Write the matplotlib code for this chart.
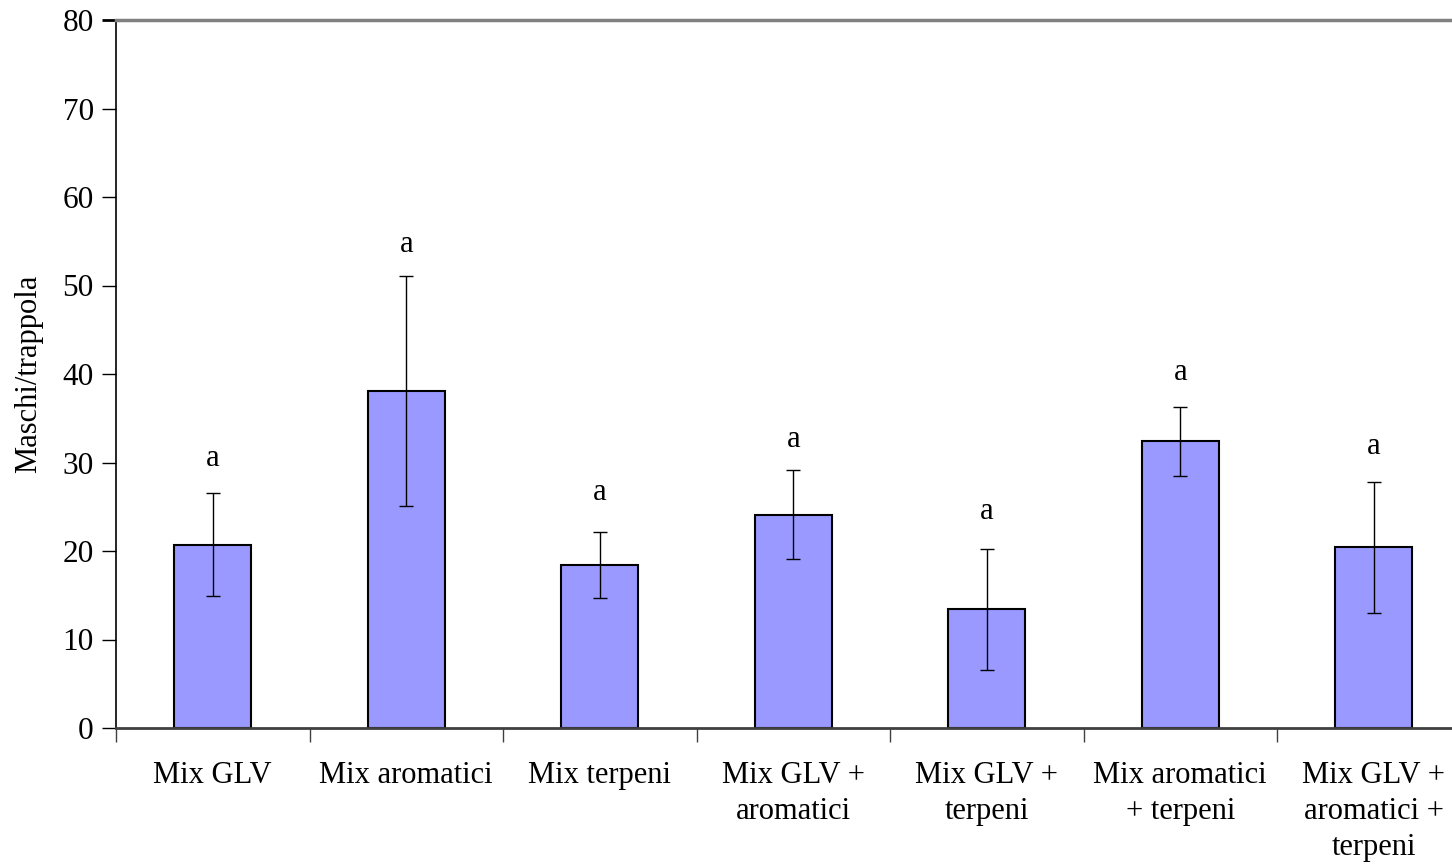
import matplotlib
matplotlib.use("Agg")
import matplotlib.pyplot as plt
import numpy as np

categories = ["Mix GLV", "Mix aromatici", "Mix terpeni", "Mix GLV +\naromatici",
              "Mix GLV +\nterpeni", "Mix aromatici\n+ terpeni", "Mix GLV +\naromatici +\nterpeni"]
means = [20.7, 38.1, 18.4, 24.1, 13.4, 32.4, 20.4]
errors = [5.8, 13.0, 3.7, 5.0, 6.8, 3.9, 7.4]
letters = ["a", "a", "a", "a", "a", "a", "a"]
letter_y = [29.6, 53.8, 25.8, 31.8, 23.6, 39.3, 31.0]
yticks = [0, 10, 20, 30, 40, 50, 60, 70, 80]

plt.rcParams['font.family'] = ['Liberation Serif', 'DejaVu Serif']
fig = plt.figure(figsize=(14.52, 8.66), dpi=100)
ax = fig.add_axes([116/1452, 138/866, 1354.5/1452, 708/866])

x = np.arange(len(categories))
ax.bar(x, means, width=0.4, color="#9999FF", edgecolor="black", linewidth=1.5, zorder=2)
ax.errorbar(x, means, yerr=errors, fmt="none", ecolor="black", elinewidth=1.0,
            capsize=4.8, capthick=1.0, zorder=3)
for xi, ly, t in zip(x, letter_y, letters):
    ax.text(xi, ly, t, ha="center", va="baseline", fontsize=22)

ax.set_xlim(-0.5, len(categories) - 0.5)
ax.set_ylim(0, 80)
ax.set_yticks(yticks)
ax.tick_params(axis="y", direction="out", length=10, width=1, labelsize=22.5, pad=6)
ax.set_xticks(np.arange(-0.5, len(categories), 1.0))
ax.set_xticklabels([])
ax.set_xticks(x, minor=True)
ax.set_xticklabels(categories, minor=True, fontsize=22, linespacing=1.3)
ax.tick_params(axis="x", which="major", direction="out", length=10, width=1, color="#404040")
ax.tick_params(axis="x", which="minor", length=0, pad=24)
ax.yaxis.get_major_ticks()[-1].tick1line.set_color("#808080")
ax.yaxis.get_major_ticks()[-1].tick1line.set_markeredgewidth(2)

ax.spines["left"].set_color("black")
ax.spines["left"].set_linewidth(1.2)
ax.spines["bottom"].set_color("#404040")
ax.spines["bottom"].set_linewidth(2)
ax.spines["top"].set_color("#808080")
ax.spines["top"].set_linewidth(2.5)
ax.spines["right"].set_visible(False)

ax.set_ylabel("Maschi/trappola", fontsize=22, labelpad=14)

fig.savefig("out.png", dpi=100)
